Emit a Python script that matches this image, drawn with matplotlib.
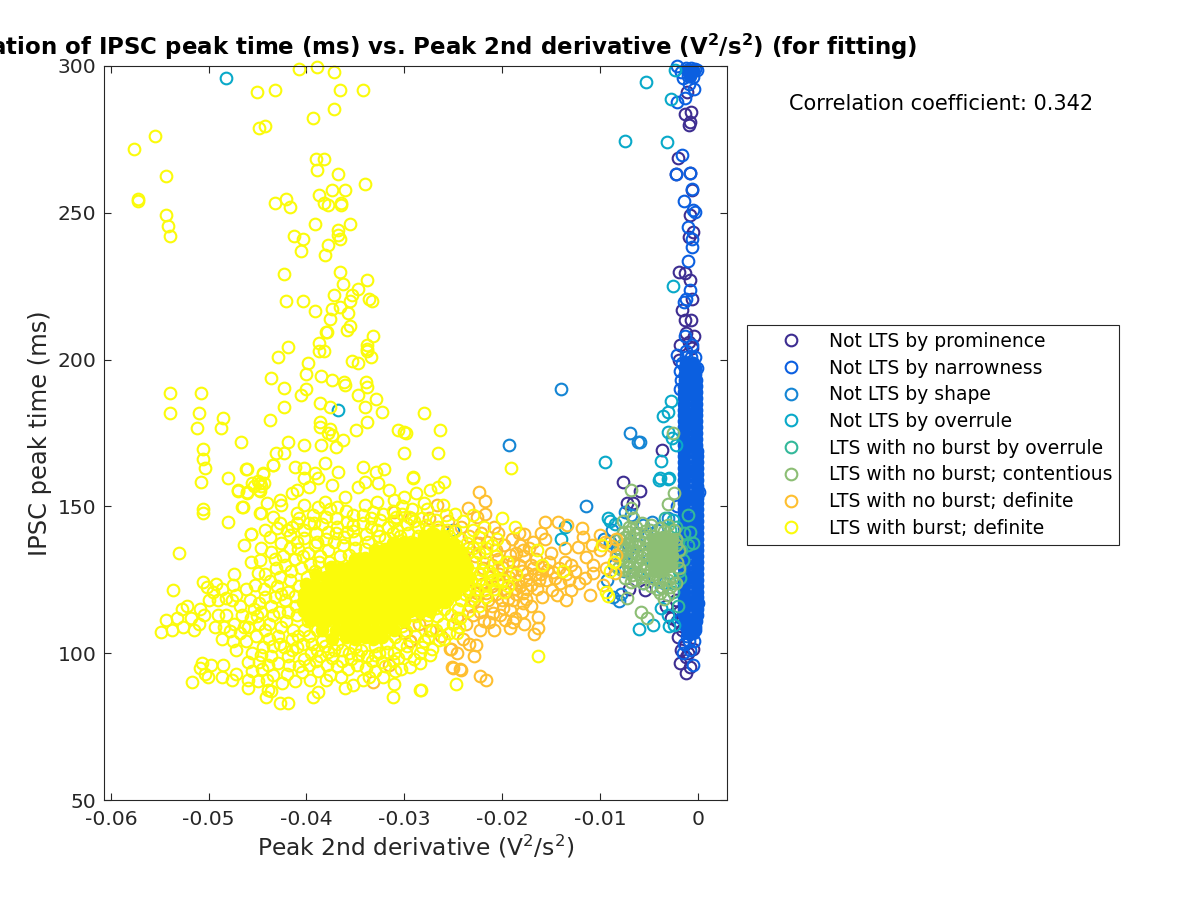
import matplotlib
matplotlib.use("Agg")
import matplotlib.pyplot as plt
import numpy as np

PROMINENCE = [(-1.1, 291), (-1.3, 283.8), (-0.7, 284.4), (-0.8, 281), (-0.9, 279.9), (-2.0, 268.5), (-2.2, 263.2),
              (-0.8, 263.6), (-0.6, 257.7), (-0.8, 249.2), (-0.5, 243.5), (-0.9, 241.8), (-1.9, 229.9), (-1.3, 229.6),
              (-0.8, 227), (-0.6, 220.8), (-1.6, 217), (-1.3, 213.4), (-0.7, 213.4), (-1.2, 209), (-0.4, 208),
              (-3.6, 169.2), (-7.6, 158.2), (-5.9, 155.3), (-7.2, 151), (-6.6, 151), (-5.4, 121.5), (-1.8, 96.5),
              (-1.2, 93.4), (-0.8, 95.2), (-1.2, 98.8), (-0.5, 101.3), (-2.0, 105.6), (-1.3, 103.3), (-0.8, 107.9),
              (-3.2, 116), (-2.2, 118), (-2.7, 112), (-1.9, 200), (-0.6, 204), (-7.0, 122), (-6.4, 125),
              (-1.7, 101), (-1.0, 100), (-1.6, 108), (-2.1, 111), (-1.9, 114), (-1.8, 205), (-0.9, 206)]
NARROWNESS = [(-2.1, 299.9), (-1.7, 298), (-1.2, 299.2), (-0.7, 299.4), (-0.3, 299), (-0.1, 298.8), (-1.5, 296),
              (-1.0, 296.5), (-0.5, 296.2), (-0.9, 293.8), (-0.4, 292), (-2.1, 287.8), (-1.3, 289), (-1.6, 269.6),
              (-2.2, 263.2), (-0.8, 263.6), (-0.6, 258), (-1.4, 254), (-0.3, 250.3), (-0.5, 250.8), (-1.0, 245),
              (-0.6, 241), (-0.6, 238.4), (-1.0, 233.5), (-0.8, 223.6), (-1.2, 220.5), (-1.4, 219.7), (-1.3, 208),
              (-2.1, 201.5), (-0.3, 201), (-1.2, 203), (-0.6, 205), (-1.6, 199), (-1.8, 196), (-0.1, 197), (-0.8, 101),
              (-1.5, 100), (-0.5, 96), (-1.1, 106), (-0.3, 108), (-1.7, 112), (0.0, 117), (-2.1, 150), (0.1, 155),
              (-1.4, 103), (-0.9, 104), (-0.4, 104), (-1.2, 201), (-0.7, 201), (-1.7, 193), (-1.8, 190)]
NARROWNESS_CORE = [(-1.2, 199), (-0.5, 199), (-1.3, 197), (-0.3, 197), (-1.3, 195), (-0.3, 195), (-1.3, 193),
                   (-0.2, 193), (-1.4, 191), (-0.2, 191), (-1.4, 189), (-0.2, 189), (-1.4, 187), (-0.2, 187),
                   (-1.4, 185), (-0.2, 185), (-1.4, 183), (-0.2, 183), (-1.4, 181), (-0.2, 181), (-1.4, 179),
                   (-0.2, 179), (-1.4, 177), (-0.2, 177), (-1.4, 175), (-0.2, 175), (-1.4, 173), (-0.2, 173),
                   (-1.4, 171), (-0.2, 171), (-1.4, 169), (-0.1, 169), (-1.4, 167), (-0.1, 167), (-1.4, 165),
                   (-0.1, 165), (-1.4, 163), (-0.1, 163), (-1.4, 161), (-0.1, 161), (-1.4, 159), (-0.1, 159),
                   (-1.4, 157), (-0.1, 157), (-1.4, 155), (-0.1, 155), (-1.4, 153), (-0.1, 153), (-1.4, 151),
                   (-0.1, 151), (-1.4, 149), (-0.1, 149), (-1.4, 147), (-0.1, 147), (-1.4, 145), (-0.1, 145),
                   (-1.4, 143), (-0.1, 143), (-1.4, 141), (-0.1, 141), (-1.4, 139), (-0.1, 139), (-1.4, 137),
                   (-0.1, 137), (-1.4, 135), (-0.1, 135), (-1.4, 133), (-0.1, 133), (-1.4, 131), (-0.1, 131),
                   (-1.4, 129), (-0.1, 129), (-1.4, 127), (-0.1, 127), (-1.4, 125), (-0.1, 125), (-1.4, 123),
                   (-0.1, 123), (-1.4, 121), (-0.1, 121), (-1.4, 119), (-0.1, 119), (-1.4, 117), (-0.1, 117),
                   (-1.4, 115), (-0.1, 115), (-1.4, 113), (-0.1, 113), (-1.3, 111), (-0.2, 111), (-1.2, 109),
                   (-0.3, 109), (-1.0, 107), (-0.5, 107), (-0.8, 198), (-0.8, 189), (-0.8, 180), (-0.8, 171),
                   (-0.8, 162), (-0.8, 153), (-0.8, 144), (-0.8, 135), (-0.8, 126), (-0.8, 117), (-0.8, 110),
                   (-1.1, 298.5), (-0.5, 298.5), (-0.8, 296.5)]
SHAPE = [(-14.0, 190), (-19.3, 171), (-6.9, 175), (-6.1, 172), (-5.9, 172), (-11.4, 150.2), (-7.4, 148.2), (-6.8, 147),
         (-4.7, 144.8), (-5.6, 143.7), (-4.2, 142), (-6.2, 141), (-8.7, 119.3), (-7.8, 120.2), (-8.0, 117.9),
         (-9.3, 125), (-9.6, 139), (-9.0, 138), (-8.2, 136), (-7.2, 134), (-6.0, 137), (-8.6, 130), (-7.5, 128),
         (-5.0, 132), (-4.5, 126), (-5.6, 124), (-3.4, 124), (-25.0, 142), (-8.8, 142), (-3.0, 146), (-2.2, 139)]
OVERRULE = [(-48.2, 295.9), (-36.8, 183), (-2.3, 298.6), (-5.3, 294.4), (-2.7, 288.7), (-7.4, 274.6), (-3.1, 274),
            (-2.5, 224.9), (-2.7, 186), (-3.5, 180.9), (-3.0, 182.2), (-3.0, 175.4), (-2.6, 173.2), (-3.7, 165.5),
            (-3.9, 159.7), (-2.9, 159.7), (-2.2, 170.9), (-9.5, 165.1), (-4.0, 159), (-3.0, 159.2), (-9.2, 146),
            (-8.5, 143.9), (-9.0, 145), (-3.7, 115.3), (-3.0, 113), (-2.9, 109.3), (-6.0, 108.1), (-4.6, 109.6),
            (-2.4, 109.6), (-3.7, 122.7), (-2.5, 145.4), (-13.6, 143), (-14.0, 139), (-7.0, 131), (-5.4, 129)]
NO_BURST_OVERRULE = [(-1.0, 147), (-0.8, 141.4), (-1.0, 136.9), (-1.7, 135.1), (-0.5, 137.4), (-1.5, 131.7),
                     (-2.2, 143), (-1.9, 128), (-2.4, 124), (-2.0, 138), (-2.6, 133), (-1.4, 141), (-2.8, 142),
                     (-2.5, 121), (-3.3, 146), (-1.8, 125.5), (-2.0, 116)]
CONTENTIOUS = [(-6.8, 155.6), (-6.8, 149.3), (-2.4, 154.7), (-3.0, 150.7), (-2.5, 175), (-6.8, 124.4), (-7.2, 118.7),
               (-5.8, 114.1), (-5.2, 111.9), (-3.9, 120.4), (-3.0, 119.8), (-3.4, 118.5), (-7.6, 141), (-7.0, 143),
               (-6.3, 143.1), (-5.4, 141.5), (-7.7, 137), (-6.9, 139), (-6.0, 138.5), (-7.4, 135), (-6.6, 134.5),
               (-5.6, 135), (-7.8, 132), (-7.0, 131.5), (-6.2, 131), (-5.3, 130.5), (-7.7, 128.5), (-7.0, 127.5),
               (-6.0, 127), (-5.2, 126.5), (-4.4, 127), (-6.6, 129.5), (-4.6, 125.5), (-3.9, 142.5), (-3.0, 143.5),
               (-2.4, 142), (-4.6, 140), (-2.2, 139), (-1.9, 135), (-2.1, 131), (-1.9, 129), (-2.6, 126), (-3.5, 125.5),
               (-4.0, 124.5), (-3.0, 124.8), (-7.9, 135.5), (-7.4, 139.5), (-7.6, 145), (-6.6, 146), (-5.7, 144.5),
               (-4.8, 143.5), (-8.0, 139), (-8.2, 133), (-8.1, 129), (-7.4, 125.5), (-6.4, 125), (-5.6, 124),
               (-4.8, 123), (-2.8, 122.5), (-2.2, 124), (-7.2, 137), (-6.4, 136.8), (-5.6, 137.5), (-6.8, 133),
               (-5.8, 132.8), (-6.6, 128), (-5.6, 128.5), (-4.8, 128.5), (-3.4, 141.5), (-2.2, 137), (-7.3, 133),
               (-6.2, 134), (-5.2, 133.5), (-6.8, 136), (-5.9, 130), (-6.4, 140.5), (-5.4, 139.5), (-7.1, 129.6),
               (-6.7, 126.6), (-5.1, 137.5), (-5.8, 126), (-4.9, 141.8), (-7.0, 141.2), (-3.6, 122.5), (-4.2, 122)]
CONTENTIOUS_CORE = [(-4.5, 139), (-3.5, 139.5), (-2.6, 139), (-4.7, 136), (-3.7, 136.5), (-2.7, 136), (-4.6, 133),
                    (-3.6, 133.5), (-2.6, 133), (-4.5, 130), (-3.5, 130.5), (-2.7, 130), (-3.6, 128), (-4.4, 128)]
NO_BURST_DEFINITE = [(-22.4, 154.8), (-21.7, 152), (-21.7, 147.4), (-22.6, 146.3), (-23.5, 149.3), (-26.7, 150.5),
                     (-15.6, 144.8), (-14.3, 144.8), (-11.8, 142.8), (-13.4, 143.7), (-16.0, 140.8), (-15.6, 139),
                     (-17.8, 140.6), (-20.4, 140.8), (-11.7, 139.5), (-10.0, 140.3), (-8.3, 138.8), (-13.6, 135.7),
                     (-12.2, 136.3), (-11.4, 132.9), (-10.0, 135.1), (-8.3, 133.4), (-10.7, 130), (-14.8, 127.8),
                     (-13.6, 131.2), (-15.8, 129.5), (-17.5, 127.2), (-10.7, 127.2), (-8.5, 127.4), (-9.7, 123.2),
                     (-12.1, 123.8), (-11.0, 119.8), (-12.9, 121.5), (-14.4, 119.8), (-15.9, 119.3), (-14.1, 123.8),
                     (-15.5, 125), (-17.0, 123.2), (-18.7, 122), (-17.9, 117), (-18.0, 114.1), (-19.2, 114.7),
                     (-16.3, 112.2), (-16.3, 108.5), (-16.7, 106.5), (-17.8, 109.8), (-19.7, 111.3), (-20.9, 113.6),
                     (-21.3, 110.7), (-22.3, 107.9), (-22.7, 102.8), (-22.9, 99.2), (-25.2, 101.5), (-25.1, 95.2),
                     (-24.2, 94.3), (-22.3, 92.3), (-21.6, 90.9), (-29.4, 104), (-25.3, 101.4), (-25.0, 94.8),
                     (-24.3, 94.5), (-33.2, 90.3), (-31.6, 96), (-29.4, 104), (-12.5, 128), (-13.5, 127), (-11.5, 125.5),
                     (-16.5, 132), (-18.6, 134), (-19.8, 137), (-21.5, 138), (-23.4, 140), (-24.2, 143), (-19.0, 128),
                     (-18.3, 130), (-17.2, 136), (-15.0, 134), (-20.4, 132), (-20.0, 118), (-21.4, 118), (-23.3, 116),
                     (-24.6, 112), (-23.7, 110), (-22.3, 114), (-26.2, 106), (-27.4, 108), (-29.3, 146), (-31, 148),
                     (-27.5, 146), (-25.5, 145), (-26.6, 142), (-30.0, 107), (-28.5, 110), (-16.2, 125), (-17.9, 120.5),
                     (-13.0, 130), (-9.4, 129), (-8.8, 136.5), (-9.5, 137.8), (-10.8, 137), (-8.6, 131),
                     (-22.3, 127), (-21.3, 126), (-20.3, 127), (-19.3, 126), (-18.4, 125), (-22.0, 123.5), (-21.0, 123),
                     (-20.0, 123.5), (-19.0, 124), (-22.6, 120.5), (-21.6, 120.5), (-20.6, 120), (-19.6, 121),
                     (-21.9, 129), (-21.0, 130), (-20.0, 129.5), (-18.9, 131), (-17.8, 133), (-22.8, 133), (-21.7, 134.5),
                     (-20.6, 135), (-19.2, 133.5), (-23.5, 136), (-22.4, 137.5), (-19.0, 139), (-18.2, 137), (-16.8, 129),
                     (-15.2, 131), (-14.2, 129), (-16.0, 127), (-17.6, 125), (-23.6, 125), (-23.4, 121), (-22.9, 118),
                     (-21.0, 116), (-19.9, 115.5), (-18.9, 118), (-17.0, 116), (-20.8, 108), (-19.2, 108.5), (-24.0, 105),
                     (-23.4, 103), (-24.6, 100), (-13.5, 118), (-18.7, 112), (-14.9, 121.5), (-13.2, 125),
                     (-18.2, 123), (-17.4, 122), (-18.0, 128), (-17.0, 130), (-16.6, 127), (-15.4, 128.5), (-14.6, 125.5),
                     (-18.6, 120), (-17.6, 118.5), (-16.4, 122), (-19.4, 118.5), (-20.4, 125), (-17.9, 135), (-16.8, 138),
                     (-18.3, 141), (-20.8, 143), (-22.2, 141), (-20.2, 113), (-18.9, 110.5), (-21.8, 111), (-23.0, 113)]
BURST = [(-40.8, 298.9), (-38.9, 299.5), (-37.2, 298.1), (-45.1, 291), (-43.2, 291.7), (-36.6, 291.7), (-34.2, 291.7),
         (-37.2, 285.2), (-39.3, 282.4), (-44.9, 278.9), (-44.2, 279.6), (-55.5, 276), (-57.6, 271.8), (-54.4, 262.5),
         (-57.2, 254.7), (-57.2, 254), (-54.4, 249.3), (-54.2, 245.6), (-54.0, 242), (-39.0, 268.3), (-38.2, 268.3),
         (-38.9, 264.6), (-36.8, 263.3), (-34.0, 259.7), (-38.7, 256.2), (-37.4, 257.6), (-36.1, 257.6), (-38.2, 253.3),
         (-37.8, 252.7), (-36.5, 253.3), (-36.5, 252.7), (-43.2, 253.3), (-42.1, 254.8), (-41.7, 252), (-39.1, 246.3),
         (-35.5, 246.3), (-36.8, 244), (-36.8, 242.5), (-36.6, 241), (-41.3, 242), (-40.4, 241), (-37.8, 239),
         (-40.6, 237), (-38.1, 235.6), (-36.6, 230), (-42.3, 229.2), (-33.8, 227), (-36.3, 225.6), (-34.7, 224.2),
         (-37.2, 222.1), (-35.3, 222.1), (-35.5, 220), (-33.6, 220.7), (-33.3, 220), (-42.1, 220), (-40.4, 220),
         (-39.1, 216.5), (-37.4, 217.1), (-36.6, 218), (-35.8, 215.8), (-37.6, 213.7), (-35.5, 211.6), (-35.9, 210),
         (-38.0, 209.4), (-37.9, 209.4), (-33.2, 208), (-38.7, 205.7), (-33.8, 205), (-33.8, 203.7), (-41.9, 204.4),
         (-38.7, 203), (-38.2, 203), (-33.8, 203), (-33.4, 200.8), (-42.9, 200.8), (-35.3, 199.4), (-34.7, 199),
         (-39.8, 198.7), (-40.0, 195.2), (-38.5, 194.5), (-37.4, 193), (-43.6, 193.9), (-36.2, 192.5), (-33.9, 192.5),
         (-42.3, 190.2), (-40.6, 188), (-40.0, 190), (-36.1, 191.5), (-33.8, 190.8), (-34.7, 188), (-32.9, 186.6),
         (-34.0, 183.7), (-32.3, 182.2), (-38.6, 185.1), (-37.6, 183.7), (-42.3, 183.7), (-54.0, 188.7), (-50.8, 188.7),
         (-54.0, 181.7), (-51.0, 181.7), (-51.2, 176.6), (-48.5, 180.2), (-48.7, 176.6), (-43.7, 179.4), (-38.6, 178.6),
         (-38.6, 177), (-37.6, 176.2), (-37.8, 175), (-33.8, 178.8), (-34.9, 176), (-37.4, 174.3), (-30.6, 176),
         (-29.8, 175), (-46.7, 171.8), (-41.9, 171.8), (-40.2, 171), (-38.5, 171), (-37.0, 170.3), (-36.3, 172.6),
         (-50.6, 169.6), (-50.6, 166), (-50.4, 163.2), (-50.8, 158.3), (-50.6, 149), (-50.6, 147.6), (-48.0, 144.8),
         (-53.0, 134.1), (-53.6, 121.5), (-46.2, 162.6), (-48.0, 159.7), (-43.1, 168.3), (-42.3, 168.3), (-43.4, 164),
         (-44.4, 161.2), (-45.0, 158.5), (-44.6, 157), (-45.4, 157), (-44.9, 155.5), (-47.0, 155.4), (-46.1, 154.6),
         (-46.6, 149.8), (-44.6, 147.6), (-44.0, 151.3), (-45.7, 140.6), (-46.4, 137), (-45.7, 131.2), (-47.4, 127),
         (-28.0, 181.8), (-26.3, 176), (-30.0, 175.5), (-26.6, 168.2), (-30.0, 168.2), (-29.1, 160), (-19.1, 163),
         (-16.3, 99), (-46.1, 162.6), (-43.4, 164.1), (-41.2, 163.5), (-40.3, 163), (-39.1, 161.3), (-38.1, 164.7),
         (-36.8, 161.8), (-34.2, 163.5), (-32.9, 161.8), (-32.1, 162.6), (-29.1, 159.8), (-25.9, 158.4), (-44.4, 161.3),
         (-45.6, 157.9), (-44.8, 157.9), (-44.3, 157.9), (-47.0, 155.6), (-46.1, 154.8), (-44.8, 155.2), (-40.2, 159.6),
         (-38.8, 159.6), (-39.7, 156.7), (-41.0, 155.6), (-41.5, 154.4), (-37.4, 157.3), (-34.0, 158.4), (-32.7, 157.9),
         (-34.7, 156.7), (-31.6, 155.6), (-46.5, 149.9), (-44.7, 147.6), (-42.7, 152.2), (-42.6, 150.5), (-40.2, 150.5),
         (-43.4, 146.5), (-41.0, 147.6), (-38.8, 149.9), (-38.1, 151.6), (-36.9, 149.9), (-36.1, 153.3), (-34.0, 150.5),
         (-32.8, 151.6), (-31.0, 152.2), (-30.0, 153.3), (-28.8, 154.4), (-27.4, 155.6), (-26.5, 156.7), (-45.7, 140.6),
         (-47.5, 123.2), (-47.2, 119.8), (-48.2, 118.7), (-50.6, 124.4), (-49.2, 123.6), (-42.7, 144.2), (-41.0, 144.2),
         (-39.7, 144.2), (-38.0, 146.5), (-37.8, 141.4), (-35.9, 144.8), (-35.9, 141.4), (-34.2, 144.2), (-32.5, 145.4),
         (-30.8, 146.5), (-43.7, 139.7), (-41.7, 135.7), (-43.6, 134.6), (-44.8, 131.7), (-43.1, 128.9), (-45.0, 127.2),
         (-45.3, 123.2), (-41.7, 140.3), (-40.3, 139.1), (-39.1, 136.8), (-36.1, 88), (-39.3, 85.2), (-38.8, 86.9),
         (-41.9, 82.9), (-42.7, 82.9), (-43.9, 87.5), (-44.1, 85.2), (-43.6, 87), (-46.0, 88), (-35.2, 89.2),
         (-38.0, 90.9), (-34.2, 90.9), (-31.0, 89.5), (-31.2, 85.2), (-28.4, 87.4), (-28.3, 87.4), (-30.3, 94.5),
         (-29.4, 95.2), (-28.4, 96.5), (-27.4, 99.4), (-27.2, 101.6), (-31.0, 100.2), (-31.8, 100.5), (-24.7, 89.5),
         (-24.6, 107), (-26.4, 104.5), (-28.4, 100.2),
         (-54.9, 107.2), (-54.4, 111.4), (-51.7, 90.2), (-50.7, 96.6), (-50.4, 93), (-50.9, 95), (-49.8, 96),
         (-50.1, 92), (-48.5, 96), (-48.6, 92), (-47.6, 91), (-47.2, 93), (-46.0, 91), (-45.6, 94), (-45.0, 90.5),
         (-44.5, 94.5), (-44.0, 91), (-43.4, 92.5), (-42.5, 90), (-42.0, 93), (-41.2, 90.5), (-40.5, 93.5), (-39.6, 91),
         (-38.8, 94), (-37.6, 92.5), (-36.5, 92), (-35.8, 94.5), (-33.6, 91.8), (-33.0, 94), (-32.2, 92), (-52.6, 109),
         (-53.7, 108), (-53.2, 112), (-52.7, 115), (-52.2, 116), (-51.8, 112), (-51.5, 108), (-51.0, 110), (-50.5, 113),
         (-50.9, 115), (-50.0, 118), (-49.6, 121), (-49.0, 118), (-48.6, 122), (-48.2, 113), (-47.6, 118), (-50.2, 122.5),
         (-49.4, 109), (-49.0, 113), (-48.4, 108.8), (-47.4, 110), (-46.8, 107), (-46.6, 113), (-46.0, 109), (-45.4, 115),
         (-45.8, 118), (-44.9, 110), (-44.6, 114), (-44.2, 119), (-43.8, 105), (-43.4, 113), (-43.0, 123), (-42.6, 109),
         (-42.2, 118), (-41.7, 125), (-41.5, 105), (-41.0, 113), (-40.6, 129), (-40.2, 108), (-45.2, 106), (-44.4, 102),
         (-43.6, 99), (-42.7, 103), (-41.9, 99), (-41.0, 102), (-40.2, 98), (-39.4, 103), (-38.6, 99), (-38.4, 104),
         (-37.4, 98.5), (-36.4, 101), (-35.4, 98), (-34.4, 101), (-33.3, 97.5), (-32.6, 100), (-31.2, 97.5), (-30.4, 103),
         (-29.8, 100), (-28.9, 106), (-28.0, 104), (-27.2, 108), (-26.0, 110), (-25.2, 113), (-24.2, 118), (-23.4, 122),
         (-42.2, 130), (-41.2, 132), (-40.4, 133), (-39.6, 130.5), (-38.6, 133), (-37.8, 135), (-37.2, 138), (-36.3, 137),
         (-35.0, 139), (-33.9, 140.5), (-32.8, 142), (-31.7, 143), (-30.7, 142), (-29.7, 144), (-28.6, 143), (-27.7, 141.5),
         (-26.6, 139), (-25.4, 140), (-24.6, 136.5), (-23.6, 134), (-22.8, 131), (-22.3, 127), (-22.6, 122), (-23.2, 118),
         (-24.3, 112), (-25.4, 107), (-20.5, 139), (-21.6, 136), (-19.5, 131), (-20.4, 129), (-18.6, 127), (-21.0, 125),
         (-19.8, 121), (-21.6, 119), (-22.4, 116), (-16.4, 135), (-15.9, 130), (-13.8, 128), (-9.8, 137), (-8.6, 131),
         (-9.0, 128), (-9.4, 121), (-9.2, 119.5), (-18.7, 143), (-20.0, 146), (-21.8, 143), (-23.0, 147), (-25.7, 147),
         (-27.7, 149), (-29.2, 149), (-30.2, 150), (-33.2, 148), (-35.2, 147), (-37.0, 146), (-39.0, 141), (-41.0, 138),
         # denser rings around the solid part
         (-46.2, 104), (-45.6, 100), (-47.2, 101), (-44.9, 97), (-43.9, 96), (-42.9, 96.5), (-41.8, 96), (-40.8, 95.6),
         (-39.7, 96), (-37.9, 96), (-36.9, 95.5), (-34.8, 96), (-33.9, 94.8), (-32.0, 95.5), (-30.9, 94), (-38.9, 101),
         (-37.8, 100.5), (-36.9, 103), (-35.0, 102), (-33.0, 102.5), (-31.8, 103.5), (-30.9, 105.5), (-29.8, 107.5),
         (-29.0, 109.5), (-27.8, 111), (-26.7, 112.5), (-25.9, 115), (-46.8, 116), (-46.2, 122), (-45.7, 112), (-44.9, 117),
         (-44.3, 122), (-43.8, 110), (-43.6, 116), (-43.2, 119), (-42.9, 106), (-42.8, 114), (-42.7, 126), (-42.3, 102),
         (-42.1, 111), (-41.9, 121), (-41.6, 128), (-41.4, 108), (-41.1, 116), (-40.8, 123), (-40.4, 103), (-40.2, 118),
         (-39.9, 126), (-39.8, 111), (-39.7, 106), (-39.4, 114), (-39.1, 128), (-38.9, 108), (-38.7, 131), (-37.7, 131),
         (-36.9, 129.5), (-36.6, 133), (-35.8, 129), (-35.6, 133.5), (-35.0, 136), (-34.5, 132), (-34.0, 135.5),
         (-33.7, 138), (-33.0, 133), (-32.7, 136), (-32.0, 139), (-31.6, 135), (-31.1, 137.5), (-30.4, 140), (-30.2, 136.5),
         (-29.6, 141), (-29.3, 138), (-28.6, 140), (-27.8, 143.5), (-27.2, 141), (-26.5, 143), (-25.6, 142), (-24.8, 141.5),
         (-24.2, 139), (-23.6, 137.5), (-23.0, 136), (-22.4, 134), (-21.9, 131), (-22.0, 128.5), (-21.3, 128), (-21.6, 123.5),
         (-20.8, 122), (-21.0, 127), (-19.9, 125), (-19.4, 123), (-23.2, 124.5), (-23.8, 120), (-24.5, 115), (-25.6, 118),
         (-26.8, 115.5), (-27.6, 113), (-28.9, 112.5), (-30.2, 109.2), (-36.0, 148.5), (-38.4, 144), (-40.2, 142),
         (-42.0, 142), (-33.4, 146), (-31.2, 148.5), (-28.0, 151), (-26.0, 150.5), (-24.8, 147.5), (-40.8, 146),
         (-39.3, 147), (-36.9, 143), (-35.2, 141.5), (-33.4, 143), (-31.0, 145), (-29.5, 146.5), (-28.2, 146.2),
         (-26.8, 145.5), (-44.2, 142), (-42.6, 137.5), (-44.6, 136), (-43.2, 132),
         (-46.4, 109), (-45.1, 112.5), (-44.2, 108), (-43.4, 102.5), (-42.6, 120), (-41.9, 114), (-41.2, 119.5),
         (-41.5, 101), (-40.9, 106), (-40.0, 121), (-39.5, 100), (-39.0, 97.5), (-38.1, 102.5), (-37.2, 101), (-36.4, 97.5),
         (-35.6, 100), (-34.7, 99.5), (-33.8, 99), (-33.0, 99.5), (-32.3, 97), (-30.6, 98.5), (-29.7, 102.5), (-29.0, 98),
         (-28.2, 102), (-27.6, 105.5), (-26.8, 108), (-25.9, 105), (-25.0, 110), (-44.2, 127), (-43.7, 124.5),
         (-42.4, 133), (-40.9, 135.5), (-39.8, 134), (-38.9, 138), (-38.0, 139), (-37.0, 141), (-36.2, 139.5),
         (-35.2, 143.5), (-34.2, 147), (-32.2, 147.5), (-30.2, 147.5), (-32.6, 140), (-31.2, 141), (-29.0, 145),
         (-24.0, 145), (-23.0, 142), (-22.4, 139.5), (-21.0, 137), (-20.6, 133), (-22.4, 125), (-21.7, 121.5),
         (-20.5, 124.5), (-22.8, 119.5), (-23.5, 114.5), (-24.4, 109), (-23.8, 126.5), (-44.6, 99.5), (-47.5, 104),
         (-46.0, 97), (-48.6, 105), (-47.8, 107.5), (-43.0, 142.5), (-41.5, 143), (-39.2, 144.5), (-37.6, 149)]
# solid part of the burst cloud, single rings cannot be told apart here
BURST_CORE = [(-28.0, 140), (-27.0, 140.5), (-26.0, 140), (-31.0, 137.5), (-30.0, 138), (-29.0, 137.5), (-28.0, 138),
              (-27.0, 137.5), (-26.0, 138), (-25.0, 137.5), (-33.0, 135), (-32.0, 135.5), (-31.0, 135), (-30.0, 135),
              (-29.0, 135.5), (-28.0, 135), (-27.0, 135.5), (-26.0, 135), (-25.2, 135), (-24.2, 134.5), (-35.0, 132),
              (-34.0, 132.5), (-33.0, 132), (-32.0, 132), (-31.0, 132.5), (-30.0, 132), (-29.0, 132.5), (-28.0, 132),
              (-27.0, 132.5), (-26.0, 132), (-25.0, 132), (-24.0, 132), (-37.5, 129.5), (-36.5, 129), (-35.5, 129.5),
              (-34.5, 129), (-33.5, 129.5), (-32.5, 129), (-31.5, 129.5), (-30.5, 129), (-29.5, 129.5), (-28.5, 129),
              (-27.5, 129.5), (-26.5, 129), (-25.5, 129.5), (-24.5, 129), (-23.6, 129.5), (-39.0, 126.5), (-38.0, 126),
              (-37.0, 126), (-36.0, 126.5), (-35.0, 126), (-34.0, 126.5), (-33.0, 126), (-32.0, 126.5), (-31.0, 126),
              (-30.0, 126.5), (-29.0, 126), (-28.0, 126.5), (-27.0, 126), (-26.0, 126.5), (-25.0, 126), (-24.2, 126),
              (-23.4, 126), (-40.0, 123.5), (-39.0, 123), (-38.0, 123), (-37.0, 123.5), (-36.0, 123), (-35.0, 123.5),
              (-34.0, 123), (-33.0, 123.5), (-32.0, 123), (-31.0, 123.5), (-30.0, 123), (-29.0, 123.5), (-28.0, 123),
              (-27.0, 123.5), (-26.0, 123), (-25.0, 123.5), (-24.0, 123), (-40.2, 120), (-39.2, 120.5), (-38.8, 120),
              (-37.8, 120.5), (-36.8, 120), (-35.8, 120.5), (-34.8, 120), (-33.8, 120.5), (-32.8, 120), (-31.8, 120.5),
              (-30.8, 120), (-29.8, 120.5), (-28.8, 120), (-27.8, 120.5), (-26.8, 120), (-25.8, 120.5), (-24.8, 120),
              (-40.4, 117.5), (-39.6, 117), (-38.8, 117), (-37.8, 117.5), (-36.8, 117), (-35.8, 117.5), (-34.8, 117),
              (-33.8, 117.5), (-32.8, 117), (-31.8, 117.5), (-30.8, 117), (-29.8, 117.5), (-28.8, 117), (-27.8, 117.5),
              (-26.8, 117), (-25.8, 117.5), (-40.2, 114.5), (-39.3, 114), (-38.4, 114), (-37.4, 114.5), (-36.4, 114),
              (-35.4, 114.5), (-34.4, 114), (-33.4, 114.5), (-32.4, 114), (-31.4, 114.5), (-30.4, 114), (-29.4, 114.5),
              (-28.4, 114), (-27.4, 114.5), (-39.6, 111.5), (-38.6, 111), (-38.0, 111), (-37.0, 111.5), (-36.0, 111),
              (-35.0, 111.5), (-34.0, 111), (-33.0, 111.5), (-32.0, 111), (-31.0, 111.5), (-30.0, 111), (-38.4, 108),
              (-37.0, 108), (-36.0, 108.5), (-35.0, 108), (-34.0, 108.5), (-33.0, 108), (-32.0, 108.5), (-31.0, 108),
              (-37.4, 105), (-36.0, 105.5), (-35.0, 105), (-34.0, 105.5), (-33.2, 105), (-32.3, 105.5)]

LABELS = ["Not LTS by prominence", "Not LTS by narrowness", "Not LTS by shape", "Not LTS by overrule",
          "LTS with no burst by overrule", "LTS with no burst; contentious", "LTS with no burst; definite",
          "LTS with burst; definite"]
COLORS = ["#3D2D91", "#0B5FE0", "#1485D4", "#09A9C9", "#33B89A", "#8CBE74", "#FEBF2F", "#FBFB0A"]
X_TICKS = [-0.06, -0.05, -0.04, -0.03, -0.02, -0.01, 0]
X_TICK_LABELS = ["-0.06", "-0.05", "-0.04", "-0.03", "-0.02", "-0.01", "0"]
Y_TICKS = [50, 100, 150, 200, 250, 300]
TEXT_COLOR = "#262626"


def draw(ax, points, color, label=None, filled=False):
    xs, ys = np.array(points, dtype=float).T
    ax.plot(
        xs / 1000,
        ys,
        linestyle="none",
        marker="o",
        markersize=8.4,
        markeredgewidth=1.5,
        markeredgecolor=color,
        markerfacecolor=color if filled else "none",
        label=label,
        clip_on=False,
    )


def main():
    plt.rcParams["font.family"] = "DejaVu Sans"
    plt.rcParams["mathtext.default"] = "regular"

    fig = plt.figure(figsize=(12, 9), dpi=100)
    ax = fig.add_axes([104 / 1200, 1 - 800 / 900, (727 - 104) / 1200, (800 - 66) / 900])

    draw(ax, PROMINENCE, COLORS[0], LABELS[0])
    draw(ax, NARROWNESS, COLORS[1], LABELS[1])
    draw(ax, NARROWNESS_CORE, COLORS[1], filled=True)
    draw(ax, SHAPE, COLORS[2], LABELS[2])
    draw(ax, OVERRULE, COLORS[3], LABELS[3])
    draw(ax, NO_BURST_OVERRULE, COLORS[4], LABELS[4])
    draw(ax, CONTENTIOUS, COLORS[5], LABELS[5])
    draw(ax, CONTENTIOUS_CORE, COLORS[5], filled=True)
    draw(ax, NO_BURST_DEFINITE, COLORS[6], LABELS[6])
    draw(ax, BURST, COLORS[7], LABELS[7])
    draw(ax, BURST_CORE, COLORS[7], filled=True)

    ax.set_xlim(-0.0607, 0.003)
    ax.set_ylim(50, 300)
    ax.set_xticks(X_TICKS)
    ax.set_xticklabels(X_TICK_LABELS)
    ax.set_yticks(Y_TICKS)
    ax.tick_params(direction="in", length=5, width=0.8, top=True, right=True, colors=TEXT_COLOR, labelsize=14.6)
    ax.tick_params(axis="x", pad=7)
    ax.tick_params(axis="y", pad=5.5)
    for spine in ax.spines.values():
        spine.set_color(TEXT_COLOR)
        spine.set_linewidth(0.8)

    ax.set_xlabel("Peak 2nd derivative (V$^2$/s$^2$)", fontsize=16.8, color=TEXT_COLOR, labelpad=3)
    ax.set_ylabel("IPSC peak time (ms)", fontsize=17.4, color=TEXT_COLOR, labelpad=4)
    fig.text(
        415 / 1200,
        1 - 55 / 900,
        r"Correlation of IPSC peak time (ms) vs. Peak 2nd derivative (V$\mathbf{^2}$/s$\mathbf{^2}$) (for fitting)",
        fontsize=16.5,
        fontweight="bold",
        color="black",
        ha="center",
        va="baseline",
    )
    fig.text(789 / 1200, 1 - 104 / 900, "Correlation coefficient: 0.342", fontsize=15, color="black", va="center")

    legend = ax.legend(
        loc="upper left",
        bbox_to_anchor=(747 / 1200, 1 - 325 / 900),
        bbox_transform=fig.transFigure,
        fontsize=13.5,
        frameon=True,
        fancybox=False,
        framealpha=1,
        edgecolor=TEXT_COLOR,
        borderaxespad=0,
        borderpad=0.37,
        handlelength=4.0,
        handletextpad=0.0,
        labelspacing=0.41,
        numpoints=1,
    )
    legend.get_frame().set_linewidth(0.8)

    fig.savefig("out.png", dpi=100)


if __name__ == "__main__":
    main()
